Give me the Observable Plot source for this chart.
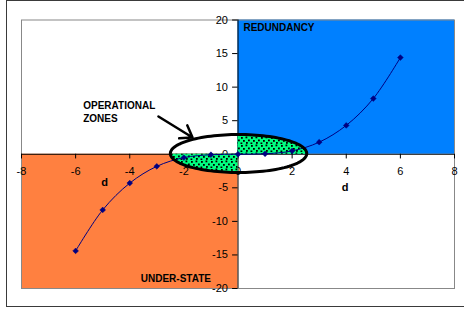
<!DOCTYPE html>
<html>
<head>
<meta charset="utf-8">
<script src="https://cdn.jsdelivr.net/npm/d3@7"></script>
<script src="https://cdn.jsdelivr.net/npm/@observablehq/plot@0.6"></script>
<style>
  html, body { margin: 0; padding: 0; background: #fff; overflow: hidden; }
  #wrap { position: relative; width: 464px; height: 313px; }
  #border { position: absolute; left: 6px; top: 0px; width: 470px; height: 305px; border: 1px solid #3a3a3a; }
  #chart { position: absolute; left: 0; top: 0; }
</style>
</head>
<body>
<div id="wrap"><div id="border"></div><div id="chart"></div></div>
<script>
// ---- data ----
const xTicks = [-8, -6, -4, -2, 0, 2, 4, 6, 8];
const yTicks = [-20, -15, -10, -5, 0, 5, 10, 15, 20];
const dValues = [-6, -5, -4, -3, -2, -1, 0, 1, 2, 3, 4, 5, 6];
const responseValues = [-14.4, -8.3, -4.3, -1.8, -0.5, -0.07, 0, 0.07, 0.5, 1.8, 4.3, 8.3, 14.4];
const zoneNames = ["REDUNDANCY", "UNDER-STATE"];
const zoneX1 = [0, -8];
const zoneX2 = [8, 0];
const zoneY1 = [0, -20];
const zoneY2 = [20, 0];
const zoneColors = ["#0080ff", "#ff8040"];
const zoneLabelX = [0.2, -1.0];
const zoneLabelY = [18.8, -18.6];
const ellipseCenter = [0.02, 0.11];
const ellipseRadii = [2.52, 2.83];
const calloutText = ["OPERATIONAL\nZONES"];
const calloutPos = [-5.72, 6.4];
const arrowFrom = [-2.94, 5.62];
const arrowTo = [-1.68, 2.49];
const axisTitle = ["d", "d"];
const axisTitleX = [-4.93, 3.96];
const axisTitleY = [-4.16, -4.9];

// ---- derived tables ----
const points = dValues.map((d, i) => ({d, v: responseValues[i]}));
const zones = zoneNames.map((n, i) => ({n, x1: zoneX1[i], x2: zoneX2[i], y1: zoneY1[i], y2: zoneY2[i], c: zoneColors[i], lx: zoneLabelX[i], ly: zoneLabelY[i]}));
const [cx, cy] = ellipseCenter, [rx, ry] = ellipseRadii;
const ellipse = d3.range(0, 361, 3).map(a => {
  const t = a * Math.PI / 180;
  return {x: cx + rx * Math.cos(t), y: cy + ry * Math.sin(t)};
});
const half = (x) => ry * Math.sqrt(Math.max(0, 1 - ((x - cx) / rx) ** 2));
const upper = d3.range(0, 41).map(k => { const x = Math.min(cx + rx, k * (cx + rx) / 40); return {x, y1: 0, y2: cy + half(x)}; });
const lower = d3.range(0, 41).map(k => { const x = (cx - rx) + k * (0 - (cx - rx)) / 40; return {x, y1: cy - half(x), y2: 0}; });
const greenZones = [...upper.map(d => ({...d, g: "u"})), ...lower.map(d => ({...d, g: "l"}))];

const font = "'Liberation Sans', Arial, sans-serif";

const plot = Plot.plot({
  width: 464,
  height: 313,
  marginLeft: 21,
  marginRight: 10,
  marginTop: 19.5,
  marginBottom: 25,
  x: {domain: [-8, 8], axis: null},
  y: {domain: [-20, 20], axis: null},
  style: {background: "transparent", fontFamily: font},
  marks: [
    Plot.rect(zones, {x1: "x1", x2: "x2", y1: "y1", y2: "y2", fill: "c"}),
    Plot.frame({stroke: "#888", strokeWidth: 1}),
    Plot.ruleY([0], {stroke: "#000", strokeWidth: 1}),
    Plot.ruleX([0], {stroke: "#000", strokeWidth: 1}),
    Plot.ruleX(xTicks, {x: d => d, y1: 0, y2: -0.7, stroke: "#000"}),
    Plot.ruleY(yTicks, {y: d => d, x1: -0.2, x2: 0, stroke: "#000"}),
    Plot.text(xTicks, {x: d => d, y: 0, dy: 17, text: d => String(d), fontSize: 11, fill: "#000"}),
    Plot.text(yTicks, {x: 0, y: d => d, dx: -10, textAnchor: "end", text: d => String(d), fontSize: 11, fill: "#000"}),
    Plot.areaY(greenZones, {x: "x", y1: "y1", y2: "y2", z: "g", fill: "#00ff80"}),
    Plot.areaY(greenZones, {x: "x", y1: "y1", y2: "y2", z: "g", fill: "url(#stipple)"}),
    Plot.line(points, {x: "d", y: "v", stroke: "#000080", strokeWidth: 1, curve: "catmull-rom"}),
    Plot.dot(points, {x: "d", y: "v", symbol: "diamond2", r: 2.6, fill: "#000080", stroke: "#000080", strokeWidth: 0.5}),
    Plot.line(ellipse, {x: "x", y: "y", stroke: "#000", strokeWidth: 3, curve: "linear-closed"}),
    Plot.arrow([0], {x1: arrowFrom[0], y1: arrowFrom[1], x2: arrowTo[0], y2: arrowTo[1], stroke: "#000", strokeWidth: 2.5, headLength: 12, headAngle: 70}),
    Plot.text(zones.filter(d => d.lx > 0), {x: "lx", y: "ly", text: "n", textAnchor: "start", fontSize: 10, fontWeight: "bold", fill: "#000"}),
    Plot.text(zones.filter(d => d.lx <= 0), {x: "lx", y: "ly", text: "n", textAnchor: "end", fontSize: 10, fontWeight: "bold", fill: "#000"}),
    Plot.text(calloutText, {x: calloutPos[0], y: calloutPos[1], text: d => d, textAnchor: "start", lineHeight: 1.35, fontSize: 10, fontWeight: "bold", fill: "#000"}),
    Plot.text(axisTitle, {x: (d, i) => axisTitleX[i], y: (d, i) => axisTitleY[i], text: d => d, fontSize: 11, fontWeight: "bold", fill: "#000"})
  ]
});

// stipple pattern definition
const svgSel = d3.select(plot);
const defs = svgSel.insert("defs", ":first-child");
const pat = defs.append("pattern").attr("id", "stipple").attr("patternUnits", "userSpaceOnUse").attr("width", 10).attr("height", 8);
[[1,1],[5.5,0.5],[8,3.5],[3,4],[6,6],[0.5,6.5]].forEach(([a, b]) => pat.append("rect").attr("x", a).attr("y", b).attr("width", 1.8).attr("height", 1.8).attr("fill", "#000"));

document.getElementById("chart").appendChild(plot);
</script>
</body>
</html>
